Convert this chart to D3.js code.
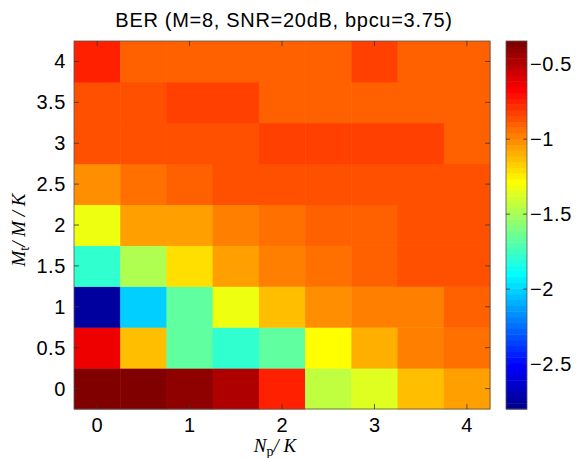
<!DOCTYPE html>
<html><head><meta charset="utf-8">
<script src="https://cdn.jsdelivr.net/npm/d3@7"></script>
<style>body{margin:0;background:#fff}svg{display:block}</style>
</head><body><svg id="c" width="588" height="458"></svg>
<script>
// Data
const xValues = [0,0.5,1,1.5,2,2.5,3,3.5,4];   // Np/K
const yValues = [0,0.5,1,1.5,2,2.5,3,3.5,4];   // Mt/M/K
// log10 BER, rows indexed by y (bottom y=0 first), columns by x
const berRows = [
  [-0.345,-0.345,-0.40,-0.48,-0.73,-1.42,-1.38,-1.15,-1.06],
  [-0.614,-1.13,-1.65,-1.80,-1.65,-1.30,-1.10,-0.98,-0.94],
  [-2.73,-2.03,-1.65,-1.34,-1.14,-1.02,-0.96,-0.96,-0.92],
  [-1.80,-1.49,-1.19,-1.06,-0.98,-0.94,-0.91,-0.88,-0.88],
  [-1.307,-1.06,-1.04,-0.96,-0.94,-0.885,-0.885,-0.85,-0.85],
  [-1.02,-0.94,-0.91,-0.88,-0.88,-0.85,-0.85,-0.85,-0.85],
  [-0.88,-0.88,-0.85,-0.85,-0.81,-0.81,-0.81,-0.81,-0.885],
  [-0.86,-0.86,-0.81,-0.81,-0.885,-0.885,-0.885,-0.885,-0.885],
  [-0.76,-0.91,-0.885,-0.885,-0.885,-0.885,-0.836,-0.885,-0.885]
];
const xTicks = [0,1,2,3,4];
const yTicks = [0,0.5,1,1.5,2,2.5,3,3.5,4];
const cTicks = [-0.5,-1,-1.5,-2,-2.5];
const cRange = [-2.80,-0.345];
const titleText = "BER (M=8, SNR=20dB, bpcu=3.75)";

// MATLAB jet(64)
function jet(n){
  const m = Math.ceil(n/4);
  const u = [];
  for(let i=1;i<=m;i++) u.push(i/m);
  for(let i=0;i<m-1;i++) u.push(1);
  for(let i=m;i>=1;i--) u.push(i/m);
  const g0 = Math.ceil(m/2) - ((n%4)===1?1:0);
  const J = Array.from({length:n},()=>[0,0,0]);
  u.forEach((v,k)=>{
    const g = g0 + k + 1, r = g + m, b = g - m;
    if(g>=1&&g<=n) J[g-1][1]=v;
    if(r>=1&&r<=n) J[r-1][0]=v;
    if(b>=1&&b<=n) J[b-1][2]=v;
  });
  return J.map(c=>d3.rgb(c[0]*255,c[1]*255,c[2]*255).toString());
}
const cmap = jet(64);
function colorOf(v){
  let i = Math.floor((v-cRange[0])/(cRange[1]-cRange[0])*64);
  i = Math.max(0,Math.min(63,i));
  return cmap[i];
}

const svg = d3.select("#c");
const L=74,R=490,T=41,B=409;
const x = d3.scaleLinear().domain([-0.25,4.25]).range([L,R]);
const y = d3.scaleLinear().domain([-0.25,4.25]).range([B,T]);
const font = "'Liberation Sans', Arial, Helvetica, sans-serif";
const fs = 20, ls = 0.6;

const cells = [];
berRows.forEach((row,j)=>row.forEach((v,i)=>cells.push({x:xValues[i],y:yValues[j],v})));
svg.append("g").selectAll("rect").data(cells).join("rect")
  .attr("x",d=>x(d.x-0.25)).attr("y",d=>y(d.y+0.25))
  .attr("width",d=>x(d.x+0.25)-x(d.x-0.25)+0.5)
  .attr("height",d=>y(d.y-0.25)-y(d.y+0.25)+0.5)
  .attr("fill",d=>colorOf(d.v));

// axes box
svg.append("rect").attr("x",L).attr("y",T).attr("width",R-L).attr("height",B-T)
  .attr("fill","none").attr("stroke","#555").attr("stroke-width",0.8);

const tk = 5;
const g = svg.append("g").attr("stroke","#333").attr("stroke-width",0.8);
xTicks.forEach(t=>{
  g.append("line").attr("x1",x(t)).attr("x2",x(t)).attr("y1",B).attr("y2",B-tk);
  g.append("line").attr("x1",x(t)).attr("x2",x(t)).attr("y1",T).attr("y2",T+tk);
});
yTicks.forEach(t=>{
  g.append("line").attr("x1",L).attr("x2",L+tk).attr("y1",y(t)).attr("y2",y(t));
  g.append("line").attr("x1",R).attr("x2",R-tk).attr("y1",y(t)).attr("y2",y(t));
});
svg.append("g").selectAll("text").data(xTicks).join("text")
  .attr("x",d=>x(d)).attr("y",432).attr("text-anchor","middle")
  .attr("font-family",font).attr("font-size",fs).text(d=>d3.format("")(d));
svg.append("g").selectAll("text").data(yTicks).join("text")
  .attr("x",66).attr("y",d=>y(d)+7).attr("text-anchor","end")
  .attr("font-family",font).attr("font-size",fs).attr("letter-spacing",ls).text(d=>d3.format("")(d));

// title
svg.append("text").attr("x",284).attr("y",27).attr("text-anchor","middle")
  .attr("font-family",font).attr("font-size",fs).attr("letter-spacing",0.7).text(titleText);

// x label
const serif = "'Liberation Serif','Times New Roman',serif";
const xl = svg.append("text").attr("x",275).attr("y",452).attr("text-anchor","middle")
  .attr("font-family",serif).attr("font-size",19);
xl.append("tspan").attr("font-style","italic").text("N");
xl.append("tspan").attr("font-size",14).attr("dy",4).text("p");
xl.append("tspan").attr("dy",-4).attr("font-style","italic").text("/ K");

// y label
const yl = svg.append("text").attr("transform",`translate(25,230) rotate(-90)`)
  .attr("text-anchor","middle").attr("font-family",serif).attr("font-size",19);
yl.append("tspan").attr("font-style","italic").text("M");
yl.append("tspan").attr("font-size",14).attr("dy",4).text("t");
yl.append("tspan").attr("dy",-4).attr("font-style","italic").text("/ M / K");

// colorbar
const CL=506,CR=527;
const cy = d3.scaleLinear().domain(cRange).range([B,T]);
const steps = d3.range(64);
svg.append("g").selectAll("rect").data(steps).join("rect")
  .attr("x",CL).attr("width",CR-CL)
  .attr("y",i=>cy(cRange[0]+(i+1)/64*(cRange[1]-cRange[0])))
  .attr("height",i=>cy(cRange[0]+i/64*(cRange[1]-cRange[0]))-cy(cRange[0]+(i+1)/64*(cRange[1]-cRange[0]))+0.5)
  .attr("fill",i=>cmap[i]);
svg.append("rect").attr("x",CL).attr("y",T).attr("width",CR-CL).attr("height",B-T)
  .attr("fill","none").attr("stroke","#555").attr("stroke-width",0.8);
const cg = svg.append("g").attr("stroke","#333").attr("stroke-width",0.8);
cTicks.forEach(t=>{
  cg.append("line").attr("x1",CL).attr("x2",CL+4).attr("y1",cy(t)).attr("y2",cy(t));
  cg.append("line").attr("x1",CR).attr("x2",CR-4).attr("y1",cy(t)).attr("y2",cy(t));
});
svg.append("g").selectAll("text").data(cTicks).join("text")
  .attr("x",530).attr("y",d=>cy(d)+7).attr("font-family",font).attr("font-size",fs).attr("letter-spacing",ls)
  .text(d=>"\u2212"+Math.abs(d));
</script></body></html>
